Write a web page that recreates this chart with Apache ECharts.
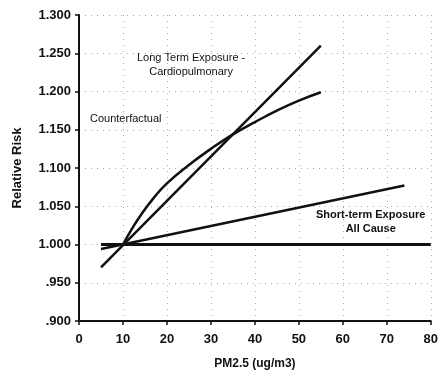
<!DOCTYPE html>
<html><head><meta charset="utf-8">
<script src="https://cdn.jsdelivr.net/npm/echarts@6/dist/echarts.min.js"></script>
<style>html,body{margin:0;padding:0;background:#fff}#c{width:441px;height:375px}</style>
</head><body><div id="c"></div>
<script>
var xTicks = [0,10,20,30,40,50,60,70,80];
var yTickLabels = {'0.9':'.900','0.95':'.950','1':'1.000','1.05':'1.050','1.1':'1.100','1.15':'1.150','1.2':'1.200','1.25':'1.250','1.3':'1.300'};
var counterfactualX = [5, 80];
var counterfactualY = [1.000, 1.000];
var longLinearX = [5, 55];
var longLinearY = [0.970, 1.260];
var longCurveX = [10, 12, 14, 17, 20, 25, 30, 35, 40, 45, 50, 55];
var longCurveY = [1.000, 1.020, 1.038, 1.061, 1.080, 1.104, 1.125, 1.144, 1.160, 1.175, 1.188, 1.199];
var shortX = [5, 74];
var shortY = [0.994, 1.077];

function pairs(xs, ys){ return xs.map(function(x,i){return [x, ys[i]];}); }
var chart = echarts.init(document.getElementById('c'));
var lineStyle = {color:'#111', width:2.5};
chart.setOption({
  animation:false,
  grid:{left:79, right:6, top:15, bottom:51, containLabel:false},
  xAxis:{type:'value', min:0, max:80, interval:10,
    name:'PM2.5 (ug/m3)', nameLocation:'middle', nameGap:37,
    nameTextStyle:{fontFamily:'Liberation Sans', fontWeight:'bold', fontSize:12, color:'#111'},
    axisLine:{lineStyle:{color:'#111', width:2}},
    axisTick:{inside:false, length:4, lineStyle:{color:'#111', width:1.5}},
    axisLabel:{fontFamily:'Liberation Sans', fontWeight:'bold', fontSize:13, color:'#111', margin:12},
    splitLine:{show:true, lineStyle:{type:[1,5], color:'#aaa', width:1}}
  },
  yAxis:{type:'value', min:0.9, max:1.3, interval:0.05,
    name:'Relative Risk', nameLocation:'middle', nameGap:55, nameRotate:90,
    nameTextStyle:{fontFamily:'Liberation Sans', fontWeight:'bold', fontSize:13, color:'#111'},
    axisLine:{show:true, lineStyle:{color:'#111', width:2}},
    axisTick:{show:true, length:4, lineStyle:{color:'#111', width:1.5}},
    axisLabel:{fontFamily:'Liberation Sans', fontWeight:'bold', fontSize:13, color:'#111', margin:8,
      formatter:function(v){ var k = String(Math.round(v*100)/100); return yTickLabels[k] || v.toFixed(3); }},
    splitLine:{show:true, lineStyle:{type:[1,5], color:'#aaa', width:1}}
  },
  series:[
    {type:'line', data:pairs(counterfactualX, counterfactualY), symbol:'none', lineStyle:{color:'#111', width:3}},
    {type:'line', data:pairs(longLinearX, longLinearY), symbol:'none', lineStyle:lineStyle},
    {type:'line', data:pairs(longCurveX, longCurveY), symbol:'none', smooth:true, lineStyle:lineStyle},
    {type:'line', data:pairs(shortX, shortY), symbol:'none', lineStyle:lineStyle}
  ],
  graphic:[
    {type:'text', left:137, top:51, style:{text:'Long Term Exposure -\nCardiopulmonary', textAlign:'center', fontFamily:'Liberation Sans', fontSize:11, fill:'#111', lineHeight:14}},
    {type:'text', left:90, top:113, style:{text:'Counterfactual', fontFamily:'Liberation Sans', fontSize:11, fill:'#111'}},
    {type:'text', left:316, top:208, style:{text:'Short-term Exposure\nAll Cause', textAlign:'center', fontFamily:'Liberation Sans', fontWeight:'bold', fontSize:11, fill:'#111', lineHeight:14}}
  ]
});
</script></body></html>
